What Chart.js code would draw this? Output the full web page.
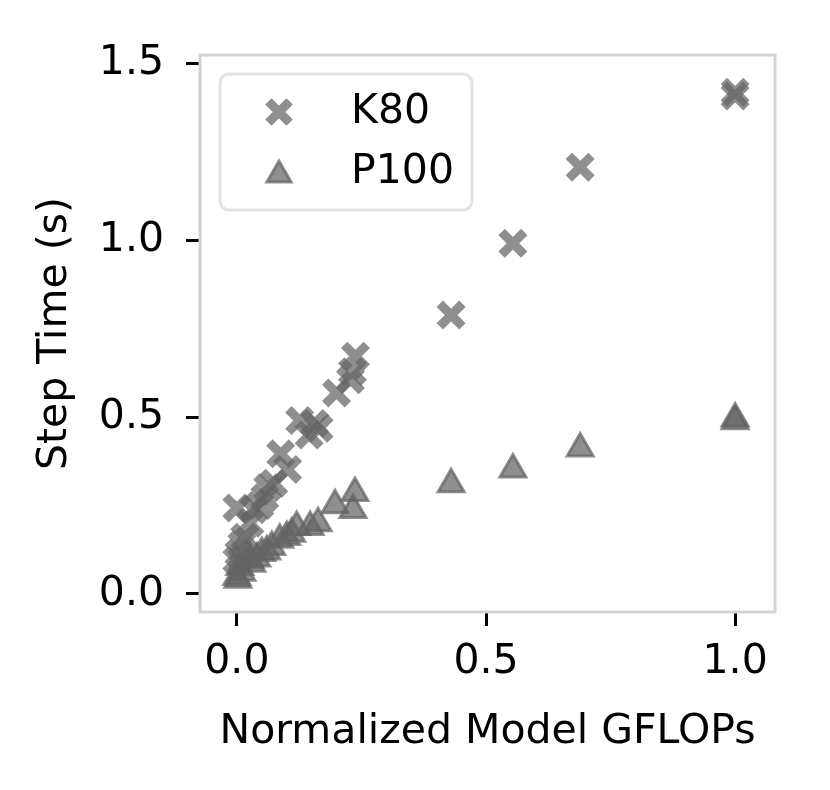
<!DOCTYPE html>
<html>
<head>
<meta charset="utf-8">
<script src="https://cdn.jsdelivr.net/npm/chart.js@4/dist/chart.umd.min.js"></script>
<style>
  html, body { margin: 0; padding: 0; background: #fff; }
  #chart { display: block; }
</style>
</head>
<body>
<canvas id="chart" width="830" height="790"></canvas>
<script>
// K80 step times against normalized model GFLOPs
const k80X = [0.000, 0.000, 0.004, 0.010, 0.016, 0.026, 0.034, 0.046, 0.056, 0.062, 0.074, 0.088, 0.102, 0.126, 0.145, 0.156, 0.165, 0.200, 0.228, 0.232, 0.238, 0.430, 0.554, 0.689, 1.000, 1.000];
const k80Y = [0.243, 0.095, 0.115, 0.140, 0.160, 0.200, 0.238, 0.250, 0.272, 0.300, 0.313, 0.396, 0.352, 0.490, 0.449, 0.482, 0.468, 0.568, 0.605, 0.628, 0.672, 0.788, 0.991, 1.206, 1.407, 1.418];

// P100 step times
const p100X = [0.000, 0.002, 0.006, 0.010, 0.026, 0.030, 0.040, 0.050, 0.060, 0.070, 0.086, 0.100, 0.110, 0.120, 0.147, 0.163, 0.197, 0.233, 0.237, 0.430, 0.554, 0.689, 1.000, 1.000];
const p100Y = [0.048, 0.040, 0.076, 0.060, 0.096, 0.085, 0.100, 0.116, 0.120, 0.133, 0.153, 0.161, 0.170, 0.189, 0.189, 0.200, 0.251, 0.237, 0.285, 0.310, 0.352, 0.411, 0.488, 0.496];

const seriesNames = ['K80', 'P100'];
const xTicks = [0, 0.5, 1.0];
const yTicks = [0, 0.5, 1.0, 1.5];

const markColor = 'rgba(100, 100, 100, 0.72)';
const spineColor = '#d4d4d4';
const fontFamily = '"DejaVu Sans", sans-serif';

function toPoints(xs, ys) {
	return xs.map((x, i) => ({ x: x, y: ys[i] }));
}

const styles = [
	{ pointStyle: 'crossRot', radius: 16, borderWidth: 9 },
	{ pointStyle: 'triangle', radius: 15, borderWidth: 3 }
];

// box round the plot area, like the light grey spines
const spinePlugin = {
	id: 'spines',
	beforeDatasetsDraw(chart) {
		const a = chart.chartArea;
		const ctx = chart.ctx;
		ctx.save();
		ctx.strokeStyle = spineColor;
		ctx.lineWidth = 3;
		ctx.strokeRect(a.left, a.top, a.right - a.left, a.bottom - a.top);
		ctx.restore();
	}
};

// legend box inside the plot, upper left
const legendPlugin = {
	id: 'boxLegend',
	afterDatasetsDraw(chart) {
		const ctx = chart.ctx;
		const bx = 220, by = 74, bw = 252, bh = 136;
		ctx.save();
		ctx.beginPath();
		ctx.roundRect(bx, by, bw, bh, 9);
		ctx.fillStyle = '#fff';
		ctx.fill();
		ctx.strokeStyle = '#e2e2e2';
		ctx.lineWidth = 3;
		ctx.stroke();

		const rows = [112, 172];
		chart.data.datasets.forEach((ds, i) => {
			ctx.fillStyle = markColor;
			ctx.strokeStyle = markColor;
			ctx.lineWidth = styles[i].borderWidth;
			Chart.helpers.drawPoint(ctx, {
				pointStyle: styles[i].pointStyle,
				radius: styles[i].radius - 1,
				borderWidth: styles[i].borderWidth,
				rotation: 0
			}, 279, rows[i] + (i == 1 ? 3 : 0));
			ctx.fillStyle = '#000';
			ctx.font = '41px ' + fontFamily;
			ctx.textBaseline = 'middle';
			ctx.textAlign = 'left';
			ctx.fillText(ds.label, 351, rows[i]);
		});
		ctx.restore();
	}
};

const datasets = [
	{ label: seriesNames[0], data: toPoints(k80X, k80Y) },
	{ label: seriesNames[1], data: toPoints(p100X, p100Y) }
].map((ds, i) => Object.assign(ds, {
	pointStyle: styles[i].pointStyle,
	pointRadius: styles[i].radius,
	pointBorderWidth: styles[i].borderWidth,
	backgroundColor: markColor,
	borderColor: markColor
}));

const tickFont = { family: fontFamily, size: 41 };

new Chart(document.getElementById('chart'), {
	type: 'scatter',
	data: { datasets: datasets },
	plugins: [spinePlugin, legendPlugin],
	options: {
		responsive: false,
		animation: false,
		devicePixelRatio: 1,
		layout: { padding: { left: 0, right: 55, top: 55, bottom: 0 } },
		plugins: {
			legend: { display: false },
			tooltip: { enabled: false }
		},
		scales: {
			x: {
				type: 'linear',
				min: -0.074,
				max: 1.08,
				afterBuildTicks: s => { s.ticks = xTicks.map(v => ({ value: v })); },
				afterFit: s => { s.height = 178; },
				border: { display: false },
				grid: {
					drawOnChartArea: false,
					drawTicks: true,
					tickLength: 14,
					tickWidth: 3,
					tickColor: '#000'
				},
				ticks: {
					color: '#000',
					font: tickFont,
					padding: 12,
					maxRotation: 0,
					callback: v => v.toFixed(1)
				},
				title: {
					display: true,
					text: 'Normalized Model GFLOPs',
					color: '#000',
					font: tickFont,
					padding: { top: 0, bottom: 33 }
				}
			},
			y: {
				type: 'linear',
				min: -0.051,
				max: 1.523,
				afterBuildTicks: s => { s.ticks = yTicks.map(v => ({ value: v })); },
				afterFit: s => { s.width = 200; },
				border: { display: false },
				grid: {
					drawOnChartArea: false,
					drawTicks: true,
					tickLength: 14,
					tickWidth: 3,
					tickColor: '#000'
				},
				ticks: {
					color: '#000',
					font: tickFont,
					padding: 22,
					callback: v => v.toFixed(1)
				},
				title: {
					display: true,
					text: 'Step Time (s)',
					color: '#000',
					font: tickFont,
					padding: { top: 31, bottom: 0 }
				}
			}
		}
	}
});
</script>
</body>
</html>
